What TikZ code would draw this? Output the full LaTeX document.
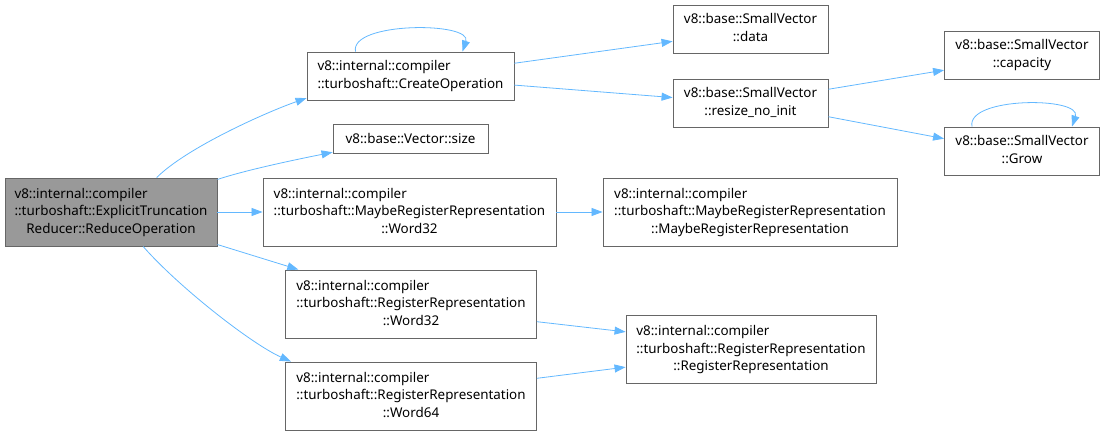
\documentclass[tikz,border=0pt]{standalone}
\usepackage{fontspec}
\setmainfont{Noto Sans}
\usetikzlibrary{arrows.meta,calc}
\definecolor{dxedge}{HTML}{63B8FF}
\definecolor{dxline}{HTML}{666666}
\definecolor{dxfill}{HTML}{999999}
% left-aligned lines, last line centred (doxygen label)
\newcommand{\dlab}[2]{\begin{tabular}{@{}l@{}}#1\\\multicolumn{1}{@{}c@{}}{#2}\end{tabular}}

\begin{document}
\begin{tikzpicture}[x=1pt,y=-1pt,
      box/.style={draw=dxline,line width=0.9pt,fill=white,inner sep=0pt,align=center,
        font=\fontsize{13.4}{17.5}\selectfont},
      arr/.style={-{Triangle[length=11pt,width=8pt]},line width=0.8pt,draw=dxedge}]
    \useasboundingbox (0,0) rectangle (1105,436);
    \node[box,fill=dxfill,minimum width=212,minimum height=68] (main) at (111,212)
      {\dlab{v8::internal::compiler\\::turboshaft::ExplicitTruncation}{Reducer::ReduceOperation}};
    \node[box,minimum width=207,minimum height=48] (cop) at (410.5,76)
      {\dlab{v8::internal::compiler}{::turboshaft::CreateOperation}};
    \node[box,minimum width=155,minimum height=48] (data) at (750.5,29)
      {\dlab{v8::base::SmallVector}{::data}};
    \node[box,minimum width=155,minimum height=48] (rsz) at (750.5,103)
      {\dlab{v8::base::SmallVector}{::resize\_no\_init}};
    \node[box,minimum width=155,minimum height=48] (cap) at (1022,55)
      {\dlab{v8::base::SmallVector}{::capacity}};
    \node[box,minimum width=155,minimum height=48] (grow) at (1022,151)
      {\dlab{v8::base::SmallVector}{::Grow}};
    \node[box,minimum width=155,minimum height=29] (size) at (410.5,138.5)
      {v8::base::Vector::size};
    \node[box,minimum width=293,minimum height=68] (mw32) at (409.5,212)
      {\dlab{v8::internal::compiler\\::turboshaft::MaybeRegisterRepresentation}{::Word32}};
    \node[box,minimum width=294,minimum height=68] (mrep) at (750,212)
      {\dlab{v8::internal::compiler\\::turboshaft::MaybeRegisterRepresentation}{::MaybeRegisterRepresentation}};
    \node[box,minimum width=251,minimum height=68] (rw32) at (411,304)
      {\dlab{v8::internal::compiler\\::turboshaft::RegisterRepresentation}{::Word32}};
    \node[box,minimum width=251,minimum height=68] (rw64) at (411,396)
      {\dlab{v8::internal::compiler\\::turboshaft::RegisterRepresentation}{::Word64}};
    \node[box,minimum width=250,minimum height=68] (rrep) at (751,349.5)
      {\dlab{v8::internal::compiler\\::turboshaft::RegisterRepresentation}{::RegisterRepresentation}};
    \draw[arr] (main.37) .. controls +(30,-30) and +(-40,14) .. (cop.192);
    \draw[arr] (main.17) .. controls +(30,-10) and +(-30,6) .. (size.190);
    \draw[arr] (main) -- (mw32);
    \draw[arr] (main.343) -- (rw32.163);
    \draw[arr] (main.313) .. controls +(35,40) and +(-40,-18) .. (rw64.164);
    \draw[arr] ($(cop.north)+(-55,0)$) .. controls +(-6,-30) and +(10,-30) .. ($(cop.north)+(52,0)$);
    \draw[arr] (cop.7) -- (data.189);
    \draw[arr] (cop.355) -- (rsz.176);
    \draw[arr] (rsz.10) -- (cap.191);
    \draw[arr] (rsz.350) -- (grow.171);
    \draw[arr] ($(grow.north)+(-50,0)$) .. controls +(-6,-30) and +(10,-30) .. ($(grow.north)+(50,0)$);
    \draw[arr] (mw32) -- (mrep);
    \draw[arr] (rw32.352) -- (rrep.172);
    \draw[arr] (rw64.8) -- (rrep.188);
  \end{tikzpicture}
\end{document}
